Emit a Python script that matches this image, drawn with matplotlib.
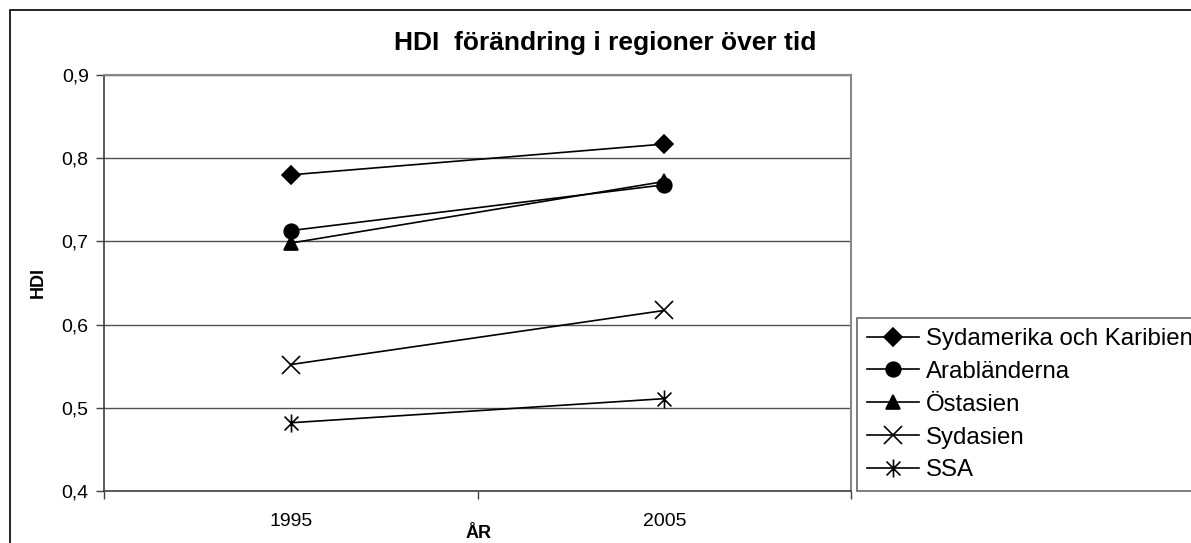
import matplotlib.pyplot as plt
from matplotlib.path import Path
from matplotlib.patches import Rectangle

plt.rcParams['font.family'] = ['Liberation Sans', 'DejaVu Sans']

# data
years = ['1995', '2005']
regions = ['Sydamerika och Karibien', 'Arabländerna', 'Östasien', 'Sydasien', 'SSA']
sydamerika = [0.780, 0.817]
arab = [0.713, 0.768]
ostasien = [0.698, 0.772]
sydasien = [0.552, 0.617]
ssa = [0.482, 0.511]

# asterisk marker (x with a vertical bar), like Excel's star
star = Path([(-1, -1), (1, 1), (-1, 1), (1, -1), (0, -1.3), (0, 1.3)],
            [Path.MOVETO, Path.LINETO, Path.MOVETO, Path.LINETO, Path.MOVETO, Path.LINETO])

fig = plt.figure(figsize=(11.91, 5.43), dpi=100)
ax = fig.add_axes([104 / 1191, 1 - 491 / 543, (851 - 104) / 1191, (491 - 75) / 543])

x = list(range(len(years)))
series = [sydamerika, arab, ostasien, sydasien, ssa]
markers = [('D', 9.5, 'k'), ('o', 10.5, 'k'), ('^', 10.5, 'k'), ('x', 13, 'none'), (star, 13, 'none')]
for vals, name, (m, ms, fc) in zip(series, regions, markers):
    ax.plot(x, vals, color='black', lw=1.2, marker=m, markersize=ms,
            markerfacecolor=fc, markeredgecolor='black', markeredgewidth=1.2, label=name)

ax.set_xlim(-0.5, 1.5)
ax.set_ylim(0.4, 0.9)
ax.set_yticks([0.4, 0.5, 0.6, 0.7, 0.8, 0.9])
ax.set_yticklabels(['0,4', '0,5', '0,6', '0,7', '0,8', '0,9'], fontsize=14)
ax.set_xticks(x)
ax.set_xticklabels(years, fontsize=14)
ax.set_xticks([-0.5, 0.5, 1.5], minor=True)
ax.tick_params(axis='x', which='major', length=0, pad=16)
ax.tick_params(axis='x', which='minor', length=6, width=1, color='#404040', direction='out')
ax.tick_params(axis='y', length=6, width=1, color='#404040', direction='out', pad=5)
ax.yaxis.grid(True, color='#505050', lw=1)
ax.set_axisbelow(True)

for s in ['left', 'bottom']:
    ax.spines[s].set_color('#404040')
    ax.spines[s].set_linewidth(1.2)
for s in ['top', 'right']:
    ax.spines[s].set_color('#888888')
    ax.spines[s].set_linewidth(1.5)

fig.text(605 / 1191, 1 - 43 / 543, 'HDI  förändring i regioner över tid',
         ha='center', va='center', fontsize=19, fontweight='bold')
fig.text(38 / 1191, 1 - 283 / 543, 'HDI', rotation=90, ha='center', va='center',
         fontsize=13, fontweight='bold')
fig.text(479 / 1191, 1 - 533 / 543, 'ÅR', ha='center', va='center',
         fontsize=13, fontweight='bold')

leg = fig.legend(loc='upper left', bbox_to_anchor=(857 / 1191, 1 - 318 / 543),
                 fontsize=17.3, frameon=True, fancybox=False, borderaxespad=0,
                 handlelength=2.15, handletextpad=0.3, labelspacing=0.45,
                 borderpad=0.42)
leg.get_frame().set_edgecolor('#404040')
leg.get_frame().set_linewidth(1.2)

# outer chart border (runs off the right and bottom edges)
fig.patches.append(Rectangle((10 / 1191, -0.2), 1.5, 1 - 10 / 543 + 0.2,
                             transform=fig.transFigure, fill=False,
                             edgecolor='black', lw=1.2))

fig.savefig('out.png', dpi=100)
